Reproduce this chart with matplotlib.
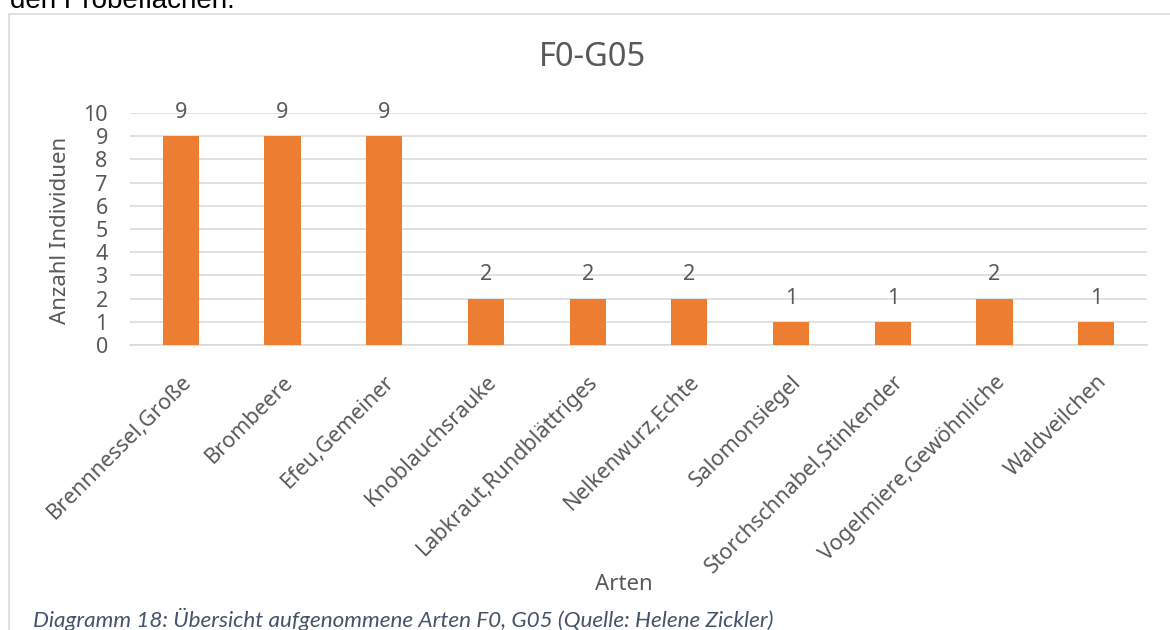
import matplotlib
matplotlib.use("Agg")
import matplotlib.pyplot as plt
from matplotlib.lines import Line2D
import numpy as np

# Data
arten = ["Brennnessel,Große", "Brombeere", "Efeu,Gemeiner", "Knoblauchsrauke",
         "Labkraut,Rundblättriges", "Nelkenwurz,Echte", "Salomonsiegel",
         "Storchschnabel,Stinkender", "Vogelmiere,Gewöhnliche", "Waldveilchen"]
anzahl = [9, 9, 9, 2, 2, 2, 1, 1, 2, 1]
y_ticks = list(range(0, 11))

# Styles
W, H = 1170, 630
bar_color = "#ED7D31"
grid_color = "#D9D9D9"
text_color = "#595959"
caption_color = "#44546A"

plt.rcParams['font.family'] = ['Noto Sans', 'DejaVu Sans']

fig = plt.figure(figsize=(W / 100, H / 100), dpi=100)
ax = fig.add_axes([130 / W, 1 - 345 / H, (1147 - 130) / W, (345 - 113) / H])

x = np.arange(len(arten))
ax.bar(x, anzahl, width=0.355, color=bar_color, zorder=3)

# value labels above bars
for xi, v in zip(x, anzahl):
    ax.annotate(str(v), (xi, v), xytext=(0, 17), textcoords="offset points",
                ha="center", va="center", fontsize=15.5, color=text_color)

ax.set_xlim(-0.5, len(arten) - 0.5)
ax.set_ylim(0, 10)
ax.set_yticks(y_ticks)
ax.yaxis.grid(True, color=grid_color, linewidth=1.1, zorder=0)
ax.set_axisbelow(True)

for s in ["top", "right", "left"]:
    ax.spines[s].set_visible(False)
ax.spines["bottom"].set_color(grid_color)
ax.spines["bottom"].set_linewidth(1.1)

ax.tick_params(axis="y", length=0, pad=16, labelsize=15.5, labelcolor=text_color)
ax.tick_params(axis="x", length=0, pad=19, labelsize=15.5, labelcolor=text_color)

ax.set_xticks(x)
ax.set_xticklabels(arten, rotation=45, ha="right", va="top", rotation_mode="anchor")

# titles
fig.text(592 / W, 1 - 57 / H, "F0-G05", ha="center", va="center",
         fontsize=23.5, color=text_color)
fig.text(60 / W, 1 - 230 / H, "Anzahl Individuen", rotation=90,
         ha="center", va="center", fontsize=16, color=text_color)
fig.text(624 / W, 1 - 585 / H, "Arten", ha="center", va="center",
         fontsize=16, color=text_color)

# chart frame (left and top edge only visible)
fig.add_artist(Line2D([9 / W, 9 / W, 1], [0, 1 - 14 / H, 1 - 14 / H],
                      transform=fig.transFigure, color=grid_color, linewidth=1.1))

# cut-off document text above and caption below
fig.text(10 / W, 1 - 8 / H, "den Probeflächen.", ha="left", va="baseline",
         fontsize=20, color="black", family=["Liberation Sans", "DejaVu Sans"])
fig.text(33 / W, 1 - 627 / H,
         "Diagramm 18: Übersicht aufgenommene Arten F0, G05 (Quelle: Helene Zickler)",
         ha="left", va="baseline", fontsize=16.2, style="italic", color=caption_color,
         family=["Lato", "Open Sans", "DejaVu Sans"])

fig.savefig("out.png", dpi=100)
